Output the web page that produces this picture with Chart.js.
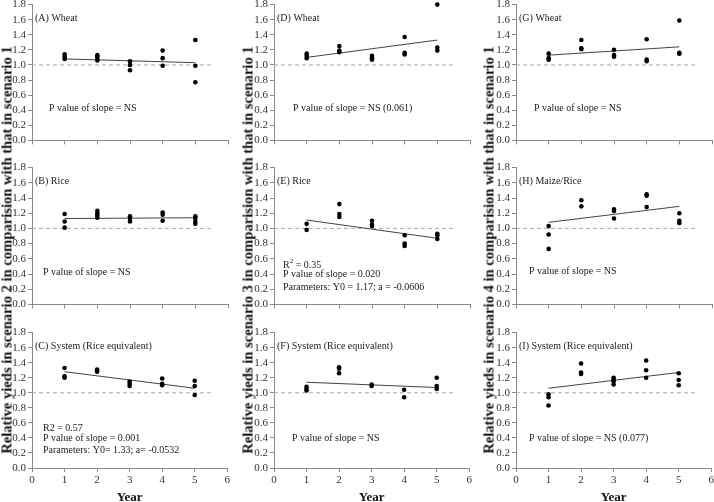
<!DOCTYPE html>
<html>
<head>
<meta charset="utf-8">
<script src="https://cdn.jsdelivr.net/npm/chart.js@4.4.1/dist/chart.umd.min.js"></script>
<style>
  body { margin: 0; width: 714px; height: 502px; overflow: hidden; background: #fff; position: relative; }
  canvas { position: absolute; }
  .ytitle {
    position: absolute;
    font: bold 14.6px "Liberation Serif", serif;
    color: #111;
    white-space: nowrap;
    transform: translate(-50%, -50%) rotate(-90deg);
  }
</style>
</head>
<body>
<script>
// values per year (years 1..5)
const years = [1, 2, 3, 4, 5];
const fitYears = [1, 5];

// scenario 2 vs 1
const s2Wheat = [[1.14, 1.11, 1.08], [1.13, 1.11, 1.08, 1.06], [1.05, 1.00, 0.93], [1.19, 1.09, 0.99], [1.33, 0.99, 0.77]];
const s2WheatFit = [1.08, 1.03];
const s2Rice = [[1.19, 1.09, 1.01], [1.23, 1.20, 1.17, 1.14], [1.16, 1.13, 1.09], [1.21, 1.18, 1.10], [1.16, 1.13, 1.09, 1.06]];
const s2RiceFit = [1.13, 1.14];
const s2System = [[1.33, 1.22, 1.20], [1.31, 1.29, 1.28], [1.15, 1.12, 1.09], [1.19, 1.12, 1.10], [1.16, 1.09, 0.97]];
const s2SystemFit = [1.28, 1.06];

// scenario 3 vs 1
const s3Wheat = [[1.15, 1.12, 1.09], [1.25, 1.19, 1.17], [1.12, 1.09, 1.07], [1.37, 1.16, 1.14], [1.80, 1.23, 1.19]];
const s3WheatFit = [1.10, 1.33];
const s3Rice = [[1.06, 0.98], [1.32, 1.19, 1.15], [1.10, 1.05, 1.03], [0.91, 0.80, 0.77], [0.93, 0.91, 0.86]];
const s3RiceFit = [1.11, 0.87];
const s3System = [[1.08, 1.05, 1.03], [1.34, 1.32, 1.26], [1.11, 1.09], [1.04, 0.94], [1.20, 1.09, 1.05]];
const s3SystemFit = [1.14, 1.07];

// scenario 4 vs 1
const s4Wheat = [[1.15, 1.09, 1.07], [1.33, 1.22, 1.21], [1.20, 1.13, 1.11], [1.34, 1.07, 1.05], [1.59, 1.16, 1.15]];
const s4WheatFit = [1.13, 1.24];
const s4MaizeRice = [[1.03, 0.92, 0.73], [1.37, 1.29], [1.25, 1.23, 1.13], [1.45, 1.43, 1.28], [1.20, 1.10, 1.07]];
const s4MaizeRiceFit = [1.08, 1.29];
const s4System = [[0.98, 0.94, 0.83], [1.39, 1.27, 1.25], [1.20, 1.18, 1.15, 1.11], [1.43, 1.30, 1.20], [1.26, 1.17, 1.10]];
const s4SystemFit = [1.06, 1.27];

const refLineX = [0, 5.5];
const refLineY = [1, 1];
const xTicks = [0, 1, 2, 3, 4, 5, 6];
const yTicks = [0, 0.2, 0.4, 0.6, 0.8, 1.0, 1.2, 1.4, 1.6, 1.8];

const yTitles = [
  'Relative yieds in scenario 2 in comparision with that in scenario 1',
  'Relative yieds in scenario 3 in comparision with that in scenario 1',
  'Relative yieds in scenario 4 in comparision with that in scenario 1'
];

const panels = [
  { col: 0, row: 0, title: '(A) Wheat', values: s2Wheat, fit: s2WheatFit, notes: ['P value of slope = NS'], noteDx: 17, noteY: [0.42] },
  { col: 0, row: 1, title: '(B) Rice', values: s2Rice, fit: s2RiceFit, notes: ['P value of slope = NS'], noteDx: 11, noteY: [0.42] },
  { col: 0, row: 2, title: '(C) System (Rice equivalent)', values: s2System, fit: s2SystemFit,
    notes: ['R2 = 0.57', 'P value of slope = 0.001', 'Parameters: Y0= 1.33; a= -0.0532'], noteDx: 11, noteY: [0.53, 0.39, 0.24] },
  { col: 1, row: 0, title: '(D) Wheat', values: s3Wheat, fit: s3WheatFit, notes: ['P value of slope = NS (0.061)'], noteDx: 19, noteY: [0.42] },
  { col: 1, row: 1, title: '(E) Rice', values: s3Rice, fit: s3RiceFit,
    notes: ['R^2 = 0.35', 'P value of slope = 0.020', 'Parameters: Y0 = 1.17; a = -0.0606'], noteDx: 9, noteY: [0.51, 0.39, 0.23] },
  { col: 1, row: 2, title: '(F) System (Rice equivalent)', values: s3System, fit: s3SystemFit, notes: ['P value of slope = NS'], noteDx: 18, noteY: [0.39] },
  { col: 2, row: 0, title: '(G) Wheat', values: s4Wheat, fit: s4WheatFit, notes: ['P value of slope = NS'], noteDx: 18, noteY: [0.42] },
  { col: 2, row: 1, title: '(H) Maize/Rice', values: s4MaizeRice, fit: s4MaizeRiceFit, notes: ['P value of slope = NS'], noteDx: 13, noteY: [0.43] },
  { col: 2, row: 2, title: '(I) System (Rice equivalent)', values: s4System, fit: s4SystemFit, notes: ['P value of slope = NS (0.077)'], noteDx: 13, noteY: [0.39] }
];

// page geometry
const colAxisX = [32, 274, 516];
const plotW = 196;
const rowTop = [4, 167, 332];
const rowH = [137, 138, 136];
const yAxisW = 30;
const padTop = 8;
const padRight = 4;

const SERIF = '"Liberation Serif", "Times New Roman", serif';
const AXIS_GREY = '#8a8a8a';

// draws panel label and the statistics text
const notesPlugin = {
  id: 'notes',
  afterDatasetsDraw(chart, args, opts) {
    const { ctx, chartArea, scales } = chart;
    ctx.save();
    ctx.fillStyle = '#1a1a1a';
    ctx.textBaseline = 'middle';
    ctx.textAlign = 'left';
    ctx.font = '10px ' + SERIF;
    ctx.fillText(opts.title, chartArea.left + 3, scales.y.getPixelForValue(1.62));

    opts.notes.forEach((line, i) => {
      let x = chartArea.left + opts.noteDx;
      const y = scales.y.getPixelForValue(opts.noteY[i]);
      if (line.startsWith('R^2')) {
        ctx.font = '10px ' + SERIF;
        ctx.fillText('R', x, y);
        x += ctx.measureText('R').width;
        ctx.font = '7px ' + SERIF;
        ctx.fillText('2', x, y - 4);
        x += ctx.measureText('2').width;
        ctx.font = '10px ' + SERIF;
        ctx.fillText(line.slice(3), x, y);
      } else {
        ctx.font = '10px ' + SERIF;
        ctx.fillText(line, x, y);
      }
    });
    ctx.restore();
  }
};

function toPoints(values) {
  const pts = [];
  values.forEach((group, i) => {
    group.forEach(v => pts.push({ x: years[i], y: v }));
  });
  return pts;
}

function makePanel(p) {
  const isBottom = p.row === 2;
  const xAxisH = isBottom ? 37 : 8;
  const canvas = document.createElement('canvas');
  const w = yAxisW + plotW + padRight;
  const h = padTop + rowH[p.row] + xAxisH;
  canvas.width = w;
  canvas.height = h;
  canvas.style.left = (colAxisX[p.col] - yAxisW) + 'px';
  canvas.style.top = (rowTop[p.row] - padTop) + 'px';
  document.body.appendChild(canvas);

  new Chart(canvas.getContext('2d'), {
    type: 'scatter',
    data: {
      datasets: [
        {
          data: toPoints(p.values),
          backgroundColor: '#000',
          borderColor: '#000',
          pointRadius: 2.3,
          borderWidth: 0,
          clip: false
        },
        {
          data: fitYears.map((x, i) => ({ x: x, y: p.fit[i] })),
          showLine: true,
          borderColor: '#444',
          borderWidth: 1,
          pointRadius: 0
        },
        {
          data: refLineX.map((x, i) => ({ x: x, y: refLineY[i] })),
          showLine: true,
          borderColor: '#a8a8a8',
          borderWidth: 1,
          borderDash: [4, 3],
          pointRadius: 0
        }
      ]
    },
    options: {
      responsive: false,
      animation: false,
      layout: { padding: { top: padTop, right: padRight, bottom: 0, left: 0 } },
      plugins: {
        legend: { display: false },
        tooltip: { enabled: false },
        notes: { title: p.title, notes: p.notes, noteDx: p.noteDx, noteY: p.noteY }
      },
      scales: {
        x: {
          type: 'linear',
          min: 0,
          max: 6,
          afterBuildTicks: s => { s.ticks = xTicks.map(v => ({ value: v })); },
          afterFit: s => { s.height = xAxisH; },
          border: { color: AXIS_GREY, width: 1 },
          grid: { drawOnChartArea: false, drawTicks: true, tickLength: 4, color: AXIS_GREY },
          ticks: {
            display: isBottom,
            autoSkip: false,
            padding: 2,
            color: '#333',
            font: { family: SERIF, size: 11 },
            maxRotation: 0
          },
          title: {
            display: isBottom,
            text: 'Year',
            color: '#111',
            padding: { top: 0, bottom: 0 },
            font: { family: SERIF, size: 13, weight: 'bold' }
          }
        },
        y: {
          min: 0,
          max: 1.8,
          afterBuildTicks: s => { s.ticks = yTicks.map(v => ({ value: v })); },
          afterFit: s => { s.width = yAxisW; },
          border: { color: AXIS_GREY, width: 1 },
          grid: { drawOnChartArea: false, drawTicks: true, tickLength: 4, color: AXIS_GREY },
          ticks: {
            autoSkip: false,
            padding: 2,
            color: '#333',
            font: { family: SERIF, size: 11 },
            callback: v => v.toFixed(1)
          }
        }
      }
    },
    plugins: [notesPlugin]
  });
}

panels.forEach(makePanel);

// rotated y titles shared by each column
const titleCx = [7, 248, 489];
yTitles.forEach((t, i) => {
  const d = document.createElement('div');
  d.className = 'ytitle';
  d.textContent = t;
  d.style.left = titleCx[i] + 'px';
  d.style.top = '250px';
  document.body.appendChild(d);
});
</script>
</body>
</html>
